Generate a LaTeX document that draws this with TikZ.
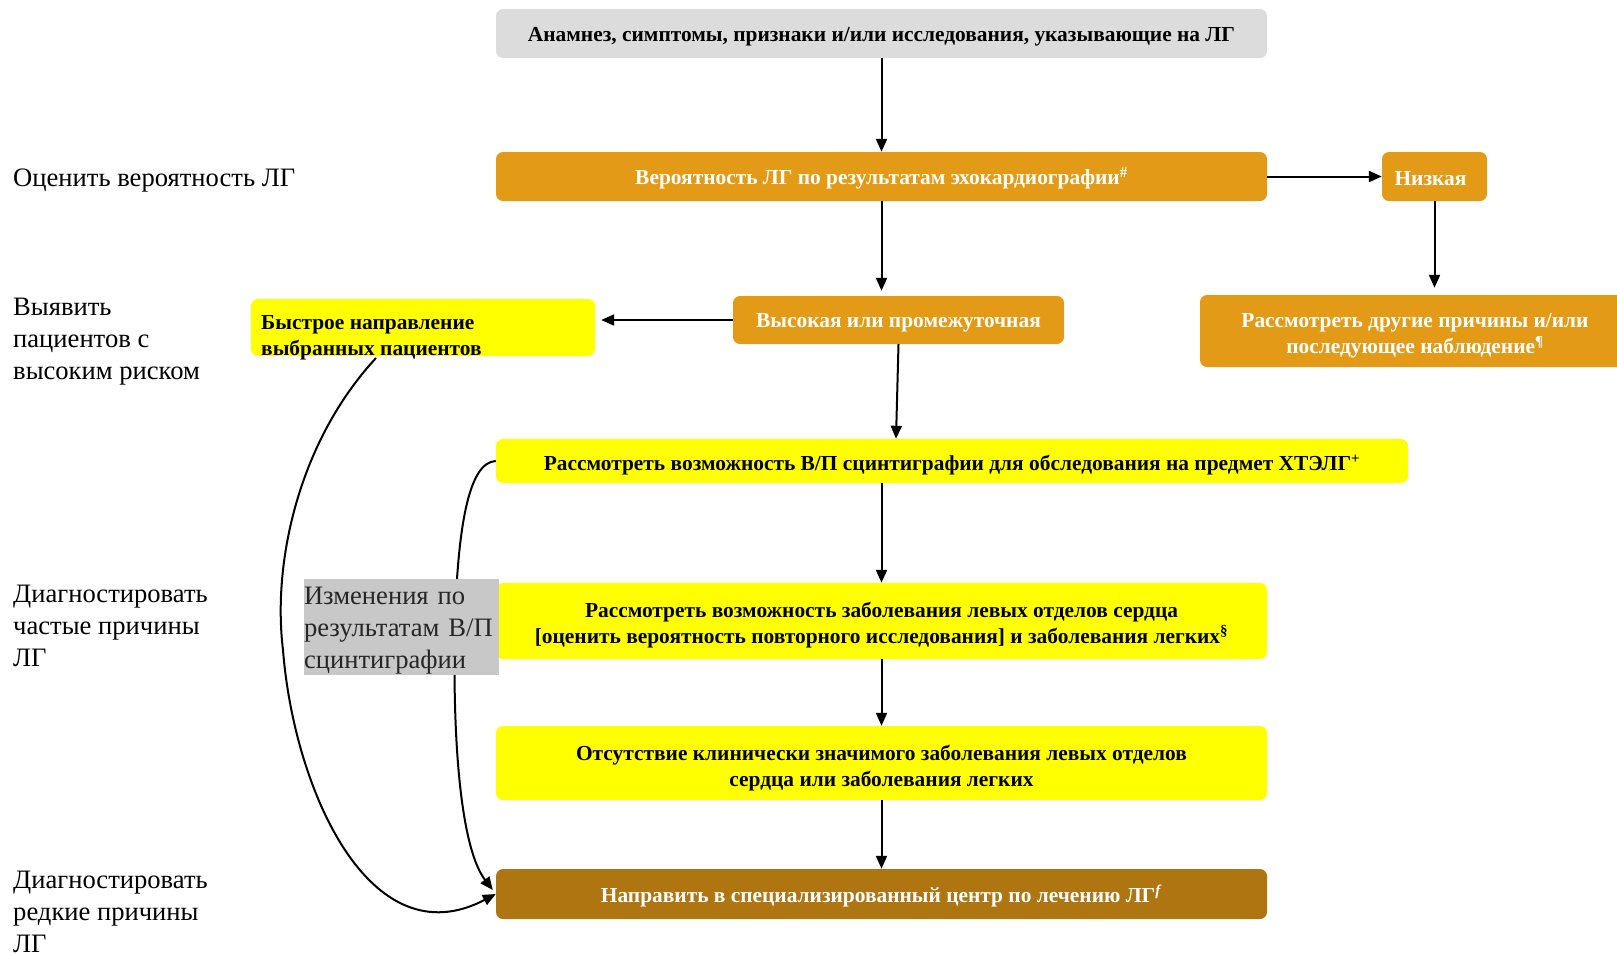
\documentclass[tikz,border=0pt]{standalone}
\usepackage{fontspec}
\setmainfont{Liberation Serif}
\usetikzlibrary{arrows.meta,calc}
\definecolor{cgray}{HTML}{DCDCDC}
\definecolor{corange}{HTML}{E39B17}
\definecolor{cyellow}{HTML}{FFFF00}
\definecolor{cgold}{HTML}{AE7511}
\definecolor{cgbox}{HTML}{C8C8C8}
\tikzset{
  box/.style={rounded corners=7pt, inner sep=0pt},
  graybox/.style={box, fill=cgray},
  orbox/.style={box, fill=corange},
  yebox/.style={box, fill=cyellow},
  gdbox/.style={box, fill=cgold},
  btext/.style={inner sep=0pt, align=center,
    font=\fontsize{21.4}{26}\selectfont\bfseries},
  wtext/.style={btext, text=white},
  ktext/.style={btext, text=black},
  arr/.style={-{Triangle[length=13pt,width=11pt]}, line width=2pt},
  lbl/.style={anchor=west, align=left, inner sep=0pt,
    font=\fontsize{26.6}{32}\selectfont},
}
\begin{document}
\begin{tikzpicture}[x=1pt,y=-1pt]
\useasboundingbox (0,0) rectangle (1617,954);
% box shapes
\node[graybox, minimum width=771pt, minimum height=49pt] (top) at (881.5,33.5) {};
\node[orbox, minimum width=771pt, minimum height=49pt] (prob) at (881.5,176.5) {};
\node[orbox, minimum width=105pt, minimum height=49pt] (low) at (1434.5,176.5) {};
\node[orbox, minimum width=430pt, minimum height=72pt] (other) at (1415,331) {};
\node[orbox, minimum width=331pt, minimum height=48pt] (high) at (898.5,320) {};
\node[yebox, minimum width=344pt, minimum height=57pt] (fast) at (423,327.5) {};
\node[yebox, minimum width=912pt, minimum height=44pt] (cteph) at (952,461) {};
\node[yebox, minimum width=771pt, minimum height=76pt] (lhd) at (881.5,621) {};
\node[yebox, minimum width=771pt, minimum height=74pt] (absent) at (881.5,763) {};
\node[gdbox, minimum width=771pt, minimum height=50pt] (refer) at (881.5,894) {};
% box texts
\node[ktext] (topt) at ($(top)+(0,3)$)
  {Анамнез, симптомы, признаки и/или исследования, указывающие на ЛГ};
\node[wtext] (probt) at ($(prob)+(0,2)$)
  {Вероятность ЛГ по результатам эхокардиографии\textsuperscript{\#}};
\node[wtext] (lowt) at ($(low)+(-4,2)$) {Низкая};
\node[wtext] (othert) at ($(other)+(0,5)$)
  {Рассмотреть другие причины и/или\\последующее наблюдение\textsuperscript{¶}};
\node[wtext] (hight) at ($(high)+(0,3)$) {Высокая или промежуточная};
\node[ktext, anchor=west, align=left] (fastt) at (261,338)
  {Быстрое направление\\выбранных пациентов};
\node[ktext] (ctepht) at ($(cteph)+(0,4)$)
  {Рассмотреть возможность В/П сцинтиграфии для обследования на предмет ХТЭЛГ\textsuperscript{+}};
\node[ktext] (lhdt) at ($(lhd)+(0,4)$)
  {Рассмотреть возможность заболевания левых отделов сердца\\
   {[}оценить вероятность повторного исследования{]} и заболевания легких\textsuperscript{§}};
\node[ktext] (absentt) at ($(absent)+(0,5)$)
  {Отсутствие клинически значимого заболевания левых отделов\\
   сердца или заболевания легких};
\node[wtext] (refert) at ($(refer)+(0,2)$)
  {Направить в специализированный центр по лечению ЛГ\textsuperscript{\textit{f}}};
% left labels
\node[lbl] (l1) at (13,181) {Оценить вероятность ЛГ};
\node[lbl] (l2) at (13,342) {Выявить\\пациентов с\\высоким риском};
\node[lbl] (l3) at (13,626) {Диагностировать\\частые причины\\ЛГ};
\node[lbl] (l4) at (13,912) {Диагностировать\\редкие причины\\ЛГ};
% straight arrows
\draw[arr] (top.south) -- (top.south |- prob.north);
\draw[arr] (prob.east) -- (low.west);
\draw[arr, shorten >=7pt] (low.south) -- (low.south |- other.north);
\draw[arr, shorten >=5pt] (prob.south) -- (prob.south |- high.north);
\draw[arr, shorten >=6pt] (high.west) -- (high.west -| fast.east);
\draw[arr] (high.south) -- ($(cteph.north)+(-56,0)$);
\draw[arr] (cteph.south -| top.south) -- (top.south |- lhd.north);
\draw[arr] (lhd.south) -- (absent.north);
\draw[arr] (absent.south) -- (refer.north);
% curved arrows
\coordinate (fstart) at (376,358);
\draw[arr] (fstart) .. controls (300,440) and (272,560) .. (283,650)
  .. controls (294,790) and (370,960) .. (refer.west);
\draw[arr] (cteph.west) .. controls (468,462) and (458,530) .. (455,620)
  .. controls (452,750) and (462,850) .. ($(refer.west)+(-3,-4)$);
% gray label box on top of curve
\node[fill=cgbox, inner sep=0pt, minimum width=195pt, minimum height=96pt] (vq) at (401.5,627) {};
\node[inner sep=0pt, text width=195pt, align=left, text=black!85,
  font=\fontsize{26.6}{32}\selectfont] (vqt) at ($(vq)+(0,3.5)$)
  {Изменения по\\результатам В/П\\сцинтиграфии};
\end{tikzpicture}
\end{document}
